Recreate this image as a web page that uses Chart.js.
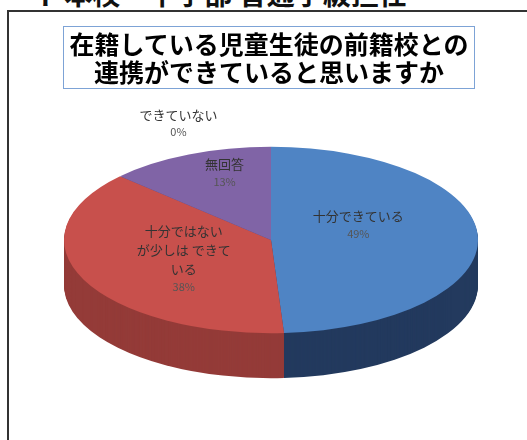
<!DOCTYPE html>
<html>
<head>
<meta charset="utf-8">
<script src="https://cdn.jsdelivr.net/npm/chart.js@4/dist/chart.umd.min.js"></script>
<style>
html,body{margin:0;padding:0;background:#fff;width:527px;height:440px;overflow:hidden;font-family:"Noto Sans CJK JP",sans-serif}
#head{position:absolute;left:30px;top:-21px;font-size:28px;line-height:28px;font-weight:bold;white-space:nowrap;color:#111}
#frame{position:absolute;left:7px;top:10px;width:600px;height:600px;border:2px solid #333}
#ttl{position:absolute;left:63px;top:26px;width:410px;height:59px;border:1px solid #7da3d6;text-align:center;font-size:25px;line-height:28px;font-weight:bold;color:#000;padding-top:2px;box-sizing:content-box}
#wrap{position:absolute;left:0;top:0;width:527px;height:440px}
</style>
</head>
<body>
<div id="head">イ 本校・中学部 普通学級担任</div>
<div id="frame"></div>
<div id="wrap"><canvas id="c"></canvas></div>
<div id="ttl">在籍している児童生徒の前籍校との<br>連携ができていると思いますか</div>
<script>
// data
const categories = ['十分できている', '十分ではないが少しは できている', 'できていない', '無回答'];
const labelLines = [['十分できている'], ['十分ではない', 'が少しは できて', 'いる'], ['できていない'], ['無回答']];
const values = [49, 38, 0, 13];

// look
const topColors = ['#4f84c4', '#c8504c', '#9bbb59', '#8064a6'];
const sideColors = ['#233a5e', '#943b38', '#5d7a30', '#5a4578'];
const tilt = 0.45, depth = 45, centerY = 240;
// label spot per slice: [fraction of radius, angle nudge in degrees]
const labelPlace = [[0.45, -18.6], [0.47, -1], [1.32, 27], [0.75, 6]];

const tilt3d = {
  id: 'tilt3d',
  beforeDatasetsDraw(chart) {
    const ctx = chart.ctx;
    const arcs = chart.getDatasetMeta(0).data;
    ctx.save();
    ctx.translate(0, centerY);
    ctx.scale(1, tilt);
    ctx.translate(0, -arcs[0].y);
    for (let d = depth; d >= 1; d--) {
      ctx.save();
      ctx.translate(0, d / tilt);
      arcs.forEach((arc, i) => {
        const side = Object.create(arc);
        side.options = Object.assign({}, arc.options, {backgroundColor: sideColors[i]});
        arc.draw.call(side, ctx);
      });
      ctx.restore();
    }
  },
  afterDatasetsDraw(chart) {
    chart.ctx.restore();
    const ctx = chart.ctx;
    const arcs = chart.getDatasetMeta(0).data;
    const total = values.reduce((a, b) => a + b, 0);
    arcs.forEach((arc, i) => {
      const [k, nudge] = labelPlace[i];
      const a = (arc.startAngle + arc.endAngle) / 2 + nudge * Math.PI / 180;
      const x = arc.x + Math.cos(a) * arc.outerRadius * k;
      const y = centerY + Math.sin(a) * arc.outerRadius * k * tilt;
      const lines = labelLines[i];
      const h = lines.length * 19 + 17;
      let ty = y - h / 2 + 9;
      ctx.save();
      ctx.textAlign = 'center';
      ctx.textBaseline = 'middle';
      ctx.fillStyle = '#333';
      ctx.font = '13px "Noto Sans CJK JP"';
      lines.forEach(t => { ctx.fillText(t, x, ty); ty += 19; });
      ctx.fillStyle = '#555';
      ctx.font = '11px "Noto Sans CJK JP"';
      ctx.fillText(Math.round(values[i] / total * 100) + '%', x, ty - 2);
      ctx.restore();
    });
  }
};

new Chart(document.getElementById('c'), {
  type: 'pie',
  data: {
    labels: categories,
    datasets: [{
      data: values,
      backgroundColor: topColors,
      borderWidth: 0,
      clip: false
    }]
  },
  options: {
    responsive: true,
    maintainAspectRatio: false,
    animation: false,
    layout: {padding: {left: 64, right: 49, top: 26, bottom: 0}},
    plugins: {legend: {display: false}, tooltip: {enabled: false}}
  },
  plugins: [tilt3d]
});
</script>
</body>
</html>
